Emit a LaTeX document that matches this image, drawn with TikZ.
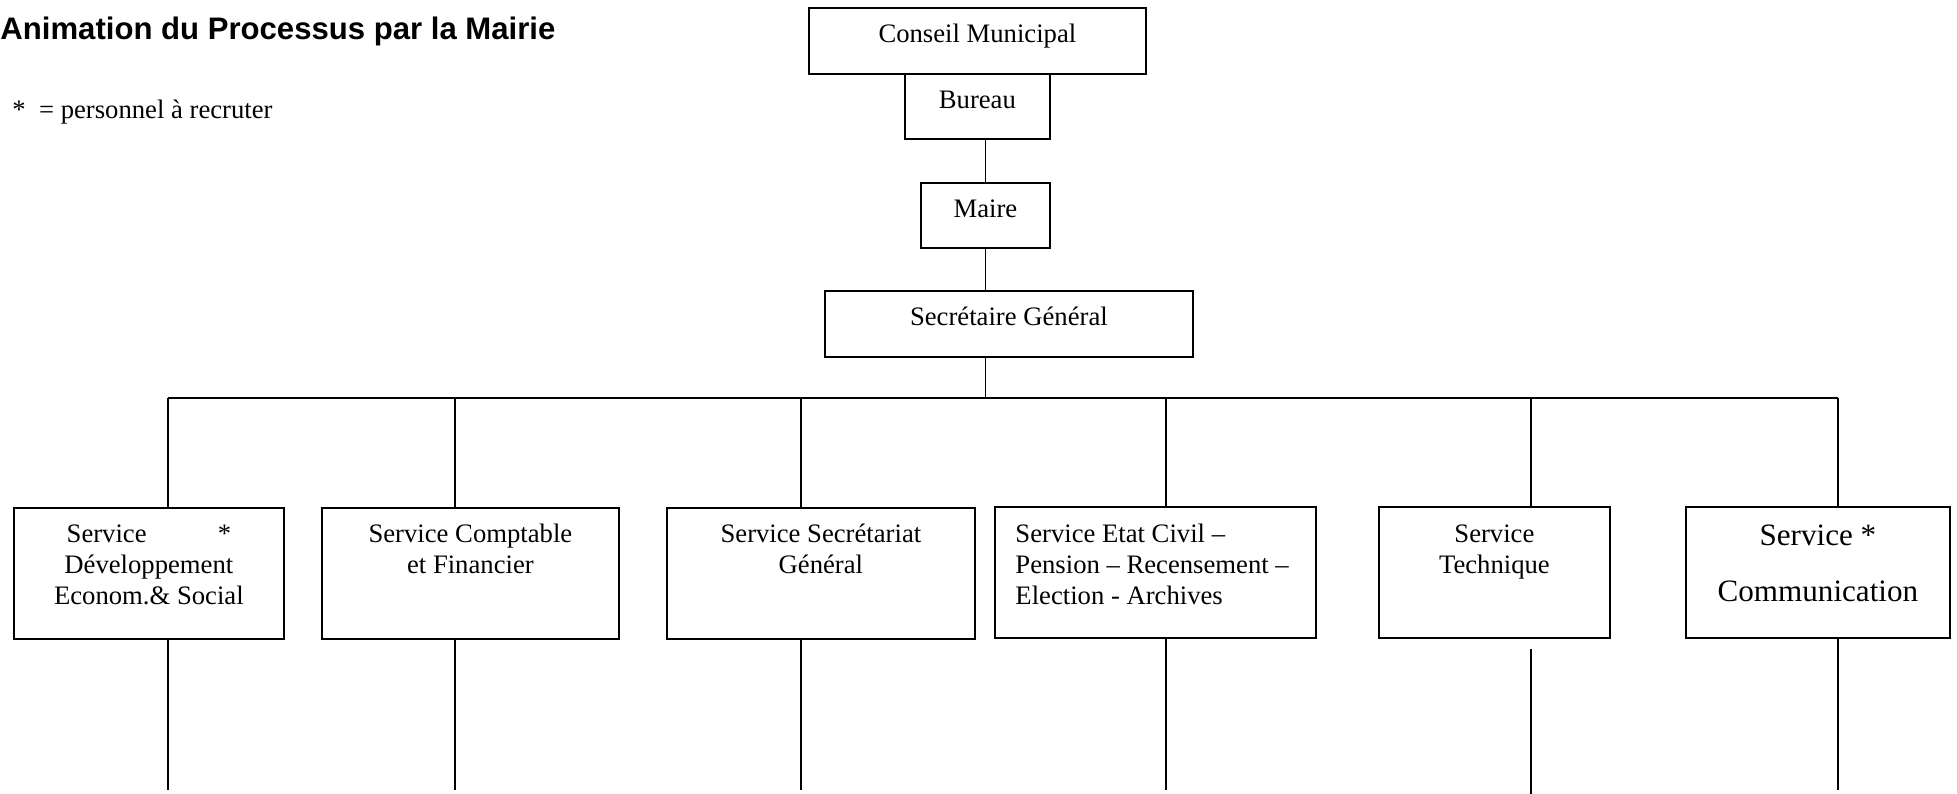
\documentclass[tikz,border=0pt]{standalone}
\usepackage{fontspec}
\setmainfont{Liberation Serif}
\newfontfamily\headfont{Liberation Sans}
\usetikzlibrary{calc}
\newcommand{\topstrut}{\rule{0pt}{13.5pt}}

\begin{document}
\begin{tikzpicture}[x=0.45pt,y=-0.45pt,
   box/.style n args={2}{draw,line width=0.8pt,inner sep=0pt,anchor=north west,
               minimum width=#1*0.45pt,minimum height=#2*0.45pt},
   lbl/.style={inner sep=0pt,anchor=north,align=center,font=\fontsize{12}{14}\selectfont},
   link/.style={line width=0.6pt}]
  \useasboundingbox (0,0) rectangle (1957,794);
  % title and legend
  \node[anchor=base west,inner sep=0pt,font=\headfont\bfseries\fontsize{14}{16}\selectfont] (title) at (0,40) {Animation du Processus par la Mairie};
  \node[anchor=base west,inner sep=0pt,font=\fontsize{12}{14}\selectfont] (legend) at (12,119) {*\ \ = personnel à recruter};
  % upper boxes
  \node[box={337}{66}] (cm) at (808,7) {};
  \node[box={145}{65}] (bur) at (904,73) {};
  \node[box={129}{65}] (maire) at (920,182) {};
  \node[box={368}{66}] (sg) at (824,290) {};
  \node[lbl] (cmtxt) at ($(cm.north)+(0,5)$) {\topstrut Conseil Municipal};
  \node[lbl] (burtxt) at ($(bur.north)+(0,5)$) {\topstrut Bureau};
  \node[lbl] (mairetxt) at ($(maire.north)+(0,5)$) {\topstrut Maire};
  \node[lbl] (sgtxt) at ($(sg.north)+(0,5)$) {\topstrut Secrétaire Général};
  % services
  \node[box={270}{131}] (s1) at (13,507) {};
  \node[box={297}{131}] (s2) at (321,507) {};
  \node[box={308}{131}] (s3) at (666,507) {};
  \node[box={321}{131}] (s4) at (994,506) {};
  \node[box={231}{131}] (s5) at (1378,506) {};
  \node[box={264}{131}] (s6) at (1685,506) {};
  \node[lbl] (s1txt) at ($(s1.north)+(0,5)$) {\topstrut Service\hspace{32pt}*\\Développement\\Econom.\& Social};
  \node[lbl] (s2txt) at ($(s2.north)+(0,5)$) {\topstrut Service Comptable\\et Financier};
  \node[lbl] (s3txt) at ($(s3.north)+(0,5)$) {\topstrut Service Secrétariat\\Général};
  \node[lbl,anchor=north west,align=left] (s4txt) at ($(s4.north west)+(21,6)$) {\topstrut Service Etat Civil --\\Pension -- Recensement --\\Election - Archives};
  \node[lbl] (s5txt) at ($(s5.north)+(0,6)$) {\topstrut Service\\Technique};
  \node[lbl,font=\fontsize{14}{25}\selectfont] (s6txt) at ($(s6.north)+(0,9)$) {\topstrut Service *\\Communication};
  % links
  \draw[link] (maire.north) -- (maire.north |- bur.south);
  \draw[link] (maire.south) -- (maire.south |- sg.north);
  \coordinate (busL) at (168,398);
  \coordinate (busR) at (1838,398);
  \draw[link] (sg.south -| maire.south) -- (maire.south |- busL);
  \draw[link] (busL) -- (busR);
  \foreach \n/\x/\gap/\yend in {s1/168/0/790,s2/455/0/790,s3/801/0/790,s4/1166/0/790,s5/1531/10/794,s6/1838/0/790}{
    \coordinate (top\n) at (\x,398);
    \coordinate (end\n) at (\x,\yend);
    \draw[link] (top\n) -- (top\n |- \n.north);
    \draw[link] ($(\n.south -| top\n)+(0,\gap)$) -- (end\n);
  }
\end{tikzpicture}
\end{document}
